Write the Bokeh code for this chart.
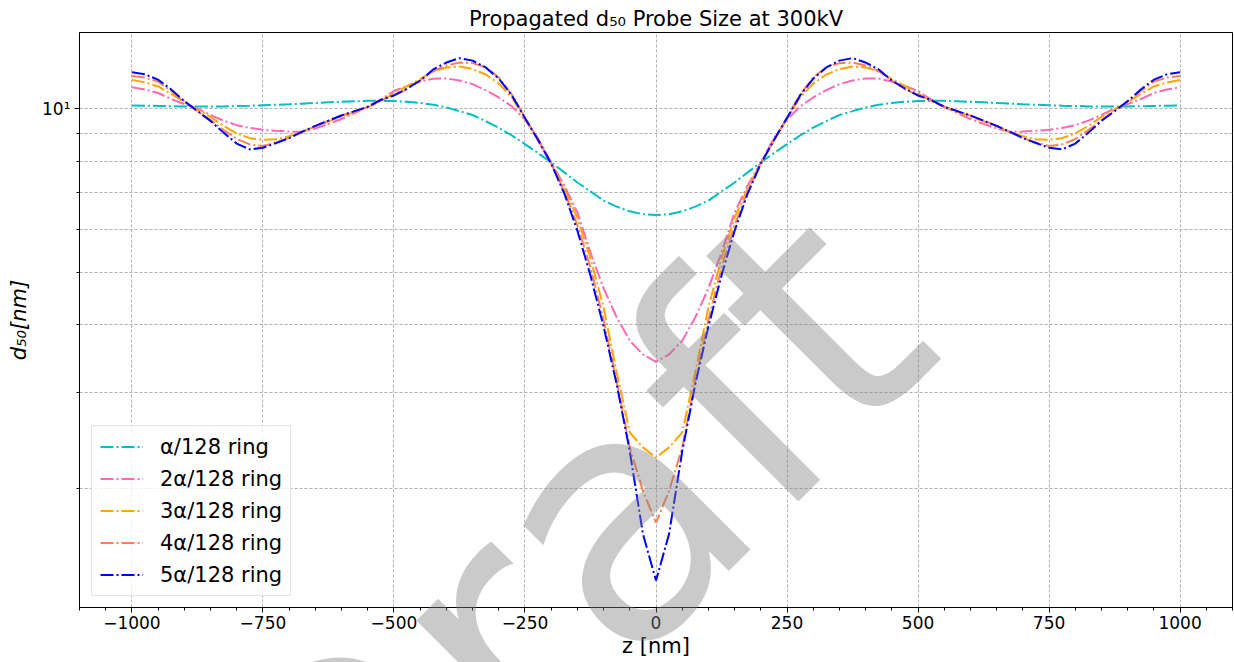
from bokeh.plotting import figure
from bokeh.models import Range1d, FixedTicker, Legend, LegendItem, Label
from bokeh.embed import file_html
from bokeh.resources import INLINE

# ---------------- data ----------------
z_nm = list(range(-1000, 1001, 25))

ring1 = [10.13, 10.12, 10.11, 10.10, 10.09, 10.09, 10.085, 10.09, 10.11, 10.12,
         10.14, 10.16, 10.18, 10.21, 10.24, 10.27, 10.29, 10.31, 10.33, 10.33,
         10.32, 10.29, 10.24, 10.16, 10.05, 9.89, 9.73, 9.48, 9.22, 8.92,
         8.60, 8.28, 7.96, 7.63, 7.31, 7.04, 6.77, 6.60, 6.47, 6.39,
         6.37,
         6.39, 6.47, 6.60, 6.77, 7.04, 7.31, 7.63, 7.96, 8.28, 8.60,
         8.92, 9.22, 9.48, 9.73, 9.89, 10.05, 10.16, 10.24, 10.29, 10.32,
         10.33, 10.33, 10.31, 10.29, 10.27, 10.24, 10.21, 10.18, 10.16, 10.14,
         10.12, 10.11, 10.09, 10.085, 10.09, 10.09, 10.10, 10.11, 10.12, 10.13]

ring2 = [10.94, 10.84, 10.68, 10.41, 10.19, 10.00, 9.73, 9.50, 9.32, 9.21,
         9.14, 9.10, 9.07, 9.06, 9.19, 9.37, 9.565, 9.81, 10.09, 10.39,
         10.77, 11.00, 11.21, 11.35, 11.36, 11.26, 11.09, 10.81, 10.48, 10.09,
         9.54, 8.81, 7.96, 7.22, 6.44, 5.43, 4.67, 4.13, 3.74, 3.53,
         3.42,
         3.53, 3.74, 4.13, 4.67, 5.43, 6.44, 7.22, 7.96, 8.81, 9.54,
         10.09, 10.48, 10.81, 11.09, 11.26, 11.36, 11.35, 11.21, 11.00, 10.77,
         10.39, 10.09, 9.81, 9.565, 9.37, 9.19, 9.06, 9.07, 9.10, 9.14,
         9.21, 9.32, 9.50, 9.73, 10.00, 10.19, 10.41, 10.68, 10.84, 10.94]

ring3 = [11.29, 11.17, 10.98, 10.64, 10.28, 9.95, 9.65, 9.29, 9.00, 8.82,
         8.76, 8.78, 8.89, 9.05, 9.27, 9.47, 9.67, 9.85, 10.06, 10.32,
         10.66, 11.00, 11.33, 11.70, 11.90, 11.95, 11.82, 11.55, 11.12, 10.48,
         9.58, 8.73, 7.92, 7.13, 6.30, 5.30, 4.31, 3.27, 2.535, 2.38,
         2.28,
         2.38, 2.535, 3.27, 4.31, 5.30, 6.30, 7.13, 7.92, 8.73, 9.58,
         10.48, 11.12, 11.55, 11.82, 11.95, 11.90, 11.70, 11.33, 11.00, 10.66,
         10.32, 10.06, 9.85, 9.67, 9.47, 9.27, 9.05, 8.89, 8.78, 8.76,
         8.82, 9.00, 9.29, 9.65, 9.95, 10.28, 10.64, 10.98, 11.17, 11.29]

ring4 = [11.48, 11.40, 11.21, 10.77, 10.30, 9.89, 9.52, 9.13, 8.79, 8.59,
         8.53, 8.66, 8.83, 9.05, 9.29, 9.50, 9.71, 9.89, 10.07, 10.36,
         10.57, 10.86, 11.26, 11.72, 12.00, 12.15, 12.12, 11.92, 11.40, 10.61,
         9.63, 8.75, 7.92, 7.04, 6.10, 5.10, 4.08, 3.15, 2.38, 1.98,
         1.73,
         1.98, 2.38, 3.15, 4.08, 5.10, 6.10, 7.04, 7.92, 8.75, 9.63,
         10.61, 11.40, 11.92, 12.12, 12.15, 12.00, 11.72, 11.26, 10.86, 10.57,
         10.36, 10.07, 9.89, 9.71, 9.50, 9.29, 9.05, 8.83, 8.66, 8.53,
         8.59, 8.79, 9.13, 9.52, 9.89, 10.30, 10.77, 11.21, 11.40, 11.48]

ring5 = [11.66, 11.56, 11.30, 10.84, 10.32, 9.89, 9.49, 9.03, 8.62, 8.41,
         8.47, 8.64, 8.82, 9.07, 9.29, 9.50, 9.71, 9.89, 10.07, 10.37,
         10.57, 10.88, 11.26, 11.80, 12.15, 12.38, 12.25, 11.90, 11.35, 10.57,
         9.61, 8.75, 7.92, 6.98, 5.96, 4.93, 3.97, 3.11, 2.34, 1.65,
         1.354,
         1.65, 2.34, 3.11, 3.97, 4.93, 5.96, 6.98, 7.92, 8.75, 9.61,
         10.57, 11.35, 11.90, 12.25, 12.38, 12.15, 11.80, 11.26, 10.88, 10.57,
         10.37, 10.07, 9.89, 9.71, 9.50, 9.29, 9.07, 8.82, 8.64, 8.47,
         8.41, 8.62, 9.03, 9.49, 9.89, 10.32, 10.84, 11.30, 11.56, 11.66]

series_labels = ["α/128 ring", "2α/128 ring", "3α/128 ring", "4α/128 ring", "5α/128 ring"]
series_values = [ring1, ring2, ring3, ring4, ring5]
series_colors = ["#00bfbf", "#ff69b4", "#ffa500", "#ff7f50", "#0000ff"]

x_ticks = [-1000, -750, -500, -250, 0, 250, 500, 750, 1000]
x_minor = list(range(-1100, 1101, 50))
y_ticks = [10]
y_minor = [2, 3, 4, 5, 6, 7, 8, 9]

FONT = "DejaVu Sans"
W, H = 1234, 662

# ---------------- main figure ----------------
p = figure(width=W, height=H, y_axis_type="log",
           x_range=Range1d(-1100, 1100), y_range=Range1d(1.208, 13.80),
           output_backend="svg", toolbar_location=None,
           min_border_left=79, min_border_right=2,
           min_border_top=32, min_border_bottom=55)
p.background_fill_color = "white"
p.border_fill_color = "white"
p.outline_line_color = "black"
p.outline_line_width = 1

p.title.text = "Propagated d\u2085\u2080 Probe Size at 300kV"
p.title.align = "center"
p.title.text_font = FONT
p.title.text_font_size = "21px"
p.title.text_font_style = "normal"
p.title.text_color = "black"
p.title.standoff = 4
p.title.offset = 0

p.xaxis.ticker = FixedTicker(ticks=x_ticks, minor_ticks=x_minor)
p.xaxis.major_label_overrides = {t: (("\u2212" + str(-t)) if t < 0 else str(t)) for t in x_ticks}
p.yaxis.ticker = FixedTicker(ticks=y_ticks, minor_ticks=y_minor)
p.yaxis.major_label_overrides = {10: "10\u00b9"}

for ax in (p.xaxis[0], p.yaxis[0]):
    ax.axis_line_color = "black"
    ax.major_tick_line_color = "black"
    ax.minor_tick_line_color = "black"
    ax.major_tick_out = 5
    ax.major_tick_in = 0
    ax.minor_tick_out = 3
    ax.minor_tick_in = 0
    ax.major_label_text_font = FONT
    ax.major_label_text_font_size = "17px"
    ax.major_label_text_color = "black"
    ax.axis_label_text_font = FONT
    ax.axis_label_text_font_size = "21px"
    ax.axis_label_text_color = "black"

p.xaxis.axis_label = "z [nm]"
p.xaxis.axis_label_text_font_style = "normal"
p.xaxis.major_label_standoff = 3
p.xaxis.axis_label_standoff = 2
p.yaxis.axis_label = "d\u2085\u2080[nm]"
p.yaxis.axis_label_text_font_style = "italic"
p.yaxis.major_label_standoff = 4
p.yaxis.axis_label_standoff = 8

for g in (p.xgrid[0], p.ygrid[0]):
    g.grid_line_color = "#b0b0b0"
    g.grid_line_dash = "3 2"
    g.grid_line_width = 1
p.ygrid.minor_grid_line_color = "#b0b0b0"
p.ygrid.minor_grid_line_dash = "3 2"
p.ygrid.minor_grid_line_width = 1

items = []
for lab, vals, col in zip(series_labels, series_values, series_colors):
    r = p.line(z_nm, vals, line_color=col, line_width=2, line_dash="13 3 2 3")
    items.append(LegendItem(label=lab, renderers=[r]))

legend = Legend(items=items, location=(12, 11),
                label_text_font=FONT, label_text_font_size="21px",
                label_text_color="black",
                glyph_width=43, glyph_height=25, label_height=25,
                spacing=7, padding=8, label_standoff=17,
                border_line_color="#cccccc", border_line_width=1,
                background_fill_color="white", background_fill_alpha=0.8)
p.add_layout(legend, "center")

# ---------------- transparent overlay figure carrying the "Draft" watermark ----------------
w = figure(width=W, height=H, x_range=Range1d(0, W), y_range=Range1d(0, H),
           output_backend="svg", toolbar_location=None,
           x_axis_location=None, y_axis_location=None,
           min_border=0, outline_line_color=None,
           background_fill_color=None, border_fill_color=None,
           styles={"position": "absolute", "top": "0px", "left": "0px",
                   "pointer-events": "none", "z-index": "10"})
w.xgrid.visible = False
w.ygrid.visible = False
wm = Label(x=560, y=H - 572, text="Draft",
           angle=45, angle_units="deg", text_font=FONT, text_font_size="340px",
           text_color="#808080", text_alpha=0.42,
           text_align="center", text_baseline="middle")
w.add_layout(wm)

open("out.html", "w").write(file_html([p, w], INLINE))
